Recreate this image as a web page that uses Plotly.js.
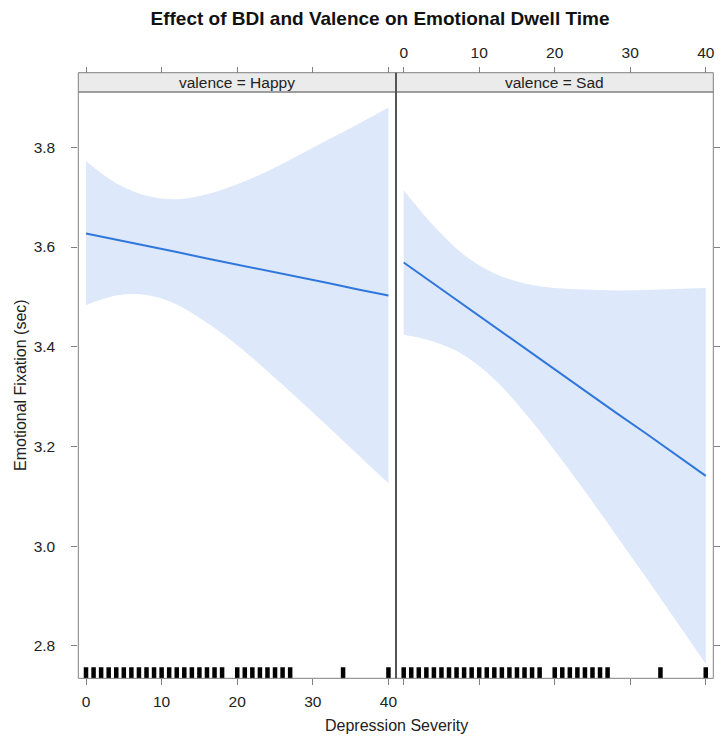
<!DOCTYPE html>
<html>
<head>
<meta charset="utf-8">
<script src="https://cdn.plot.ly/plotly-3.0.1.min.js"></script>
<style>html,body{margin:0;padding:0;background:#fff;}#chart{width:720px;height:742px;}</style>
</head>
<body>
<div id="chart"></div>
<script>
// ---- data ----
const panels = ["valence = Happy", "valence = Sad"];
const bdiGrid = [0, 4, 8, 12, 16, 20, 24, 28, 32, 36, 40];
const happyFit   = [3.627, 3.615, 3.602, 3.590, 3.577, 3.565, 3.553, 3.540, 3.528, 3.515, 3.503];
const happyUpper = [3.772, 3.728, 3.703, 3.696, 3.706, 3.726, 3.752, 3.783, 3.815, 3.847, 3.880];
const happyLower = [3.484, 3.503, 3.504, 3.485, 3.448, 3.403, 3.351, 3.296, 3.240, 3.183, 3.126];
const sadFit     = [3.569, 3.526, 3.483, 3.441, 3.398, 3.355, 3.312, 3.269, 3.227, 3.184, 3.141];
const sadUpper   = [3.714, 3.642, 3.584, 3.547, 3.527, 3.518, 3.515, 3.513, 3.514, 3.516, 3.518];
const sadLower   = [3.424, 3.410, 3.383, 3.335, 3.268, 3.192, 3.110, 3.025, 2.939, 2.852, 2.764];
const rugBDI = [0,1,2,3,4,5,6,7,8,9,10,11,12,13,14,15,16,17,18,20,21,22,23,24,25,26,27,34,40];
const xTicks = [0, 10, 20, 30, 40];
const yTicks = [2.8, 3.0, 3.2, 3.4, 3.6, 3.8];
const yTickText = ["2.8", "3.0", "3.2", "3.4", "3.6", "3.8"];
const chartTitle = "Effect of BDI and Valence on Emotional Dwell Time";
const xTitle = "Depression Severity";
const yTitle = "Emotional Fixation (sec)";

// ---- styling / geometry ----
const W = 720, H = 742;
const bandColor = "rgba(222,232,251,1)";
const lineColor = "#3077dc";
const axisGrey = "#808080";
const font = "Liberation Sans, Arial, sans-serif";
const xRange = [-1.02, 41.0];
const yRange = [2.735, 3.911];
const rugY = 2.7445;

const p1 = [78.3 / W, 396 / W];
const p2 = [396 / W, 713.3 / W];
const yDom = [(H - 678.3) / H, (H - 92) / H];
const stripTop = (H - 72.7) / H;

function panelTraces(xa, upper, lower, fit) {
  return [
    {x: bdiGrid, y: upper, xaxis: xa, yaxis: "y", mode: "lines",
     line: {width: 0, shape: "spline", color: bandColor}, hoverinfo: "skip", showlegend: false},
    {x: bdiGrid, y: lower, xaxis: xa, yaxis: "y", mode: "lines", fill: "tonexty",
     fillcolor: bandColor, line: {width: 0, shape: "spline", color: bandColor}, hoverinfo: "skip", showlegend: false},
    {x: bdiGrid, y: fit, xaxis: xa, yaxis: "y", mode: "lines",
     line: {width: 2, color: lineColor}, showlegend: false},
    {x: rugBDI, y: rugBDI.map(() => rugY), xaxis: xa, yaxis: "y", mode: "markers",
     marker: {symbol: "line-ns", size: 9, color: "#000", line: {width: 4.5, color: "#000"}}, showlegend: false}
  ];
}

// invisible carriers so the extra (top / right) axes get drawn
function carrier(xa, ya, fit) {
  return {x: bdiGrid, y: fit, xaxis: xa, yaxis: ya, mode: "lines", opacity: 0,
          line: {width: 0}, hoverinfo: "skip", showlegend: false};
}

const data = [].concat(
  panelTraces("x", happyUpper, happyLower, happyFit),
  panelTraces("x2", sadUpper, sadLower, sadFit),
  [carrier("x3", "y", happyFit), carrier("x4", "y", sadFit), carrier("x2", "y2", sadFit)]
);

const tickFont = {family: font, size: 15.5, color: "#222"};
const baseX = {
  range: xRange, tickvals: xTicks, ticktext: xTicks.map(String), ticks: "outside",
  ticklen: 6, tickcolor: axisGrey, tickwidth: 1, showgrid: false, zeroline: false,
  showline: false, tickfont: tickFont, fixedrange: true, ticklabelstandoff: 3
};

const layout = {
  width: W, height: H,
  margin: {l: 0, r: 0, t: 0, b: 0},
  paper_bgcolor: "#fff", plot_bgcolor: "rgba(0,0,0,0)",
  showlegend: false,
  title: {text: "<b>" + chartTitle + "</b>", font: {family: font, size: 19, color: "#111"},
          x: 380 / W, xref: "paper", xanchor: "center", y: (H - 18) / H, yref: "paper", yanchor: "middle"},
  xaxis: Object.assign({}, baseX, {domain: p1, anchor: "y"}),
  xaxis2: Object.assign({}, baseX, {domain: p2, anchor: "y", showticklabels: false}),
  xaxis3: Object.assign({}, baseX, {overlaying: "x", anchor: "free", position: stripTop, side: "top", showticklabels: false}),
  xaxis4: Object.assign({}, baseX, {overlaying: "x2", anchor: "free", position: stripTop, side: "top"}),
  yaxis: {domain: yDom, range: yRange, anchor: "x", tickvals: yTicks, ticktext: yTickText,
          ticks: "outside", ticklen: 6, tickcolor: axisGrey, showgrid: false, zeroline: false,
          showline: false, tickfont: tickFont, fixedrange: true, ticklabelstandoff: 13},
  yaxis2: {overlaying: "y", anchor: "x2", side: "right", range: yRange, tickvals: yTicks,
           ticks: "outside", ticklen: 6, tickcolor: axisGrey, showticklabels: false,
           showgrid: false, zeroline: false, showline: false, fixedrange: true},
  shapes: [
    {type: "rect", xref: "paper", yref: "paper", x0: p1[0], x1: p1[1], y0: yDom[0], y1: yDom[1],
     line: {color: axisGrey, width: 1}, fillcolor: "rgba(0,0,0,0)", layer: "above"},
    {type: "rect", xref: "paper", yref: "paper", x0: p2[0], x1: p2[1], y0: yDom[0], y1: yDom[1],
     line: {color: axisGrey, width: 1}, fillcolor: "rgba(0,0,0,0)", layer: "above"},
    {type: "rect", xref: "paper", yref: "paper", x0: p1[0], x1: p1[1], y0: yDom[1], y1: stripTop,
     line: {color: axisGrey, width: 1}, fillcolor: "#ebebeb", layer: "below"},
    {type: "rect", xref: "paper", yref: "paper", x0: p2[0], x1: p2[1], y0: yDom[1], y1: stripTop,
     line: {color: axisGrey, width: 1}, fillcolor: "#ebebeb", layer: "below"},
    {type: "line", xref: "paper", yref: "paper", x0: p1[1], x1: p1[1], y0: yDom[0], y1: stripTop,
     line: {color: "#555", width: 2}, layer: "above"}
  ],
  annotations: [
    {text: panels[0], xref: "paper", yref: "paper", x: (p1[0] + p1[1]) / 2, y: (yDom[1] + stripTop) / 2,
     xanchor: "center", yanchor: "middle", showarrow: false, font: {family: font, size: 15.5, color: "#222"}},
    {text: panels[1], xref: "paper", yref: "paper", x: (p2[0] + p2[1]) / 2, y: (yDom[1] + stripTop) / 2,
     xanchor: "center", yanchor: "middle", showarrow: false, font: {family: font, size: 15.5, color: "#222"}},
    {text: xTitle, xref: "paper", yref: "paper", x: 396 / W, y: (H - 725) / H,
     xanchor: "center", yanchor: "middle", showarrow: false, font: {family: font, size: 16, color: "#222"}},
    {text: yTitle, xref: "paper", yref: "paper", x: 20 / W, y: (H - 385) / H, textangle: -90,
     xanchor: "center", yanchor: "middle", showarrow: false, font: {family: font, size: 16, color: "#222"}}
  ]
};

Plotly.newPlot("chart", data, layout, {displayModeBar: false, staticPlot: true});
</script>
</body>
</html>
